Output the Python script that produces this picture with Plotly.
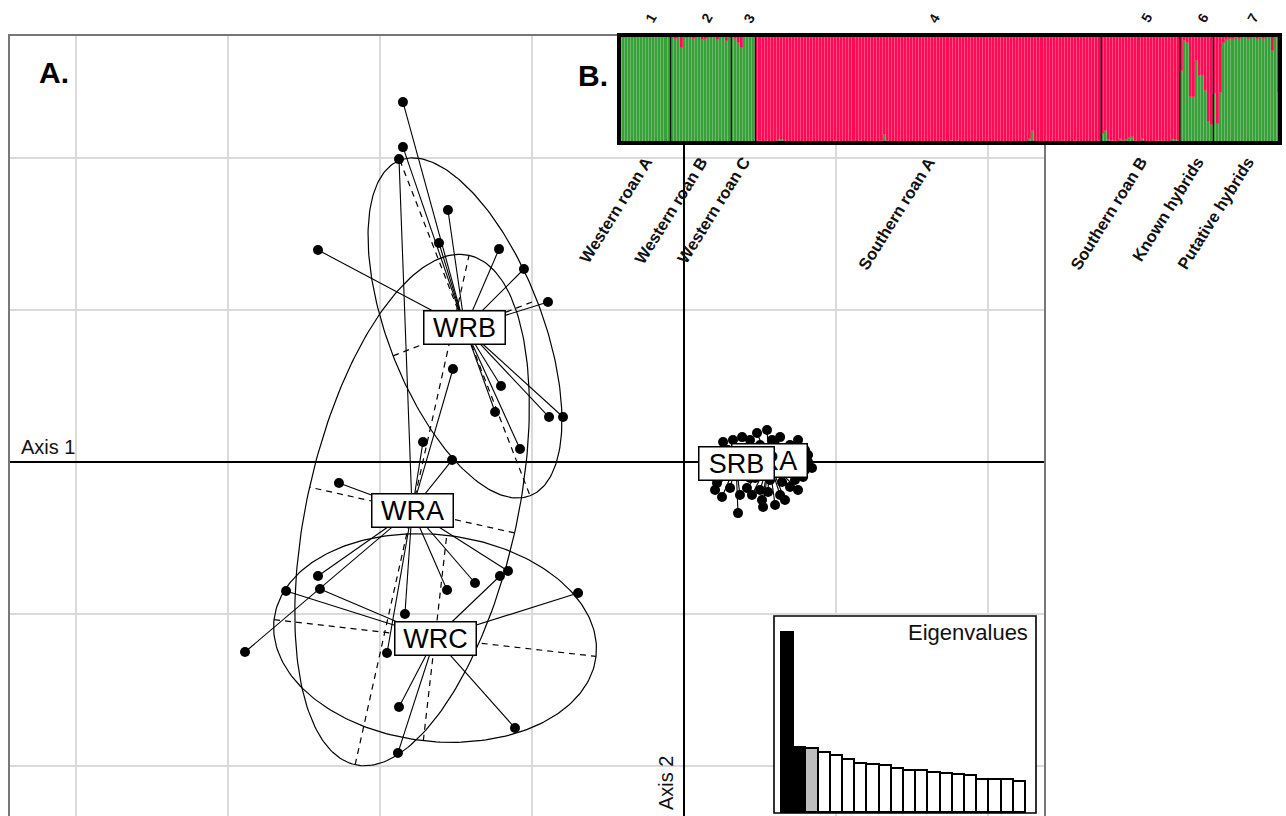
import numpy as np
import plotly.graph_objects as go

W, H = 1286, 816

# ---------------- Panel A : discriminant scores (axis units) ----------------
wrb_x = [-1.849, -1.849, -1.553, -2.408, -1.612, -1.217, -1.053, -0.895, -1.204, -1.243, -0.888, -0.796, -1.079]
wrb_y = [2.368, 2.072, 1.658, 1.395, 1.441, 1.401, 1.270, 1.053, 0.500, 0.329, 0.296, 0.296, 0.086]

wra_x = [-1.875, -1.520, -1.526, -1.717, -2.270, -2.408, -2.888, -1.836, -1.559, -1.375, -1.158, -1.954]
wra_y = [1.993, 0.612, 0.013, 0.132, -0.138, -0.750, -1.250, -1.000, -0.842, -0.796, -0.717, -1.257]

wrc_x = [-2.618, -2.395, -1.211, -0.697, -1.112, -1.875, -1.882]
wrc_y = [-0.849, -0.836, -0.750, -0.862, -1.750, -1.612, -1.914]

sra_x = [0.480, 0.546, 0.632, 0.750, 0.796, 0.816, 0.783, 0.697, 0.632, 0.513, 0.520, 0.414,
         0.599, 0.664, 0.730, 0.697, 0.566, 0.500, 0.434, 0.382, 0.697, 0.763, 0.842, 0.816,
         0.599, 0.645, 0.553, 0.467, 0.401, 0.730, 0.579, 0.500, 0.368, 0.796, 0.447, 0.599,
         0.664, 0.750, 0.533, 0.651]
sra_y = [0.191, 0.211, 0.164, 0.145, 0.079, 0.000, -0.099, -0.164, -0.217, -0.250, -0.296, -0.171,
         0.112, 0.066, -0.020, -0.066, -0.118, -0.184, 0.145, 0.164, 0.112, 0.026, -0.039, 0.046,
         -0.053, -0.132, -0.197, -0.105, -0.053, -0.118, 0.145, 0.112, 0.092, -0.053, -0.217, -0.283,
         -0.250, -0.184, -0.039, 0.013]

srb_x = [0.257, 0.250, 0.355, 0.217, 0.171, 0.184, 0.289, 0.401, 0.303, 0.368, 0.434, 0.204,
         0.138, 0.322, 0.421, 0.276]
srb_y = [0.132, -0.230, -0.336, -0.138, -0.053, 0.046, 0.079, 0.026, -0.171, -0.217, -0.105, -0.184,
         0.000, 0.145, -0.039, -0.086]

group_names = ["WRB", "WRA", "WRC", "SRA", "SRB"]
group_x = [wrb_x, wra_x, wrc_x, sra_x, srb_x]
group_y = [wrb_y, wra_y, wrc_y, sra_y, srb_y]
centroid_x = [-1.441, -1.789, -1.638, 0.559, 0.342]
centroid_y = [0.882, -0.316, -1.158, 0.007, -0.013]

# inertia ellipses of the western groups: semi-axes and orientation (degrees)
ell_names = ["WRB", "WRA", "WRC"]
ell_a = [1.184, 1.717, 1.066]
ell_b = [0.507, 0.691, 0.680]
ell_angle = [-68.8, 77.4, -6.5]

# eigenvalues inset
eig_values = [54.0, 19.5, 19.2, 18.0, 17.0, 15.8, 14.8, 14.3, 14.2, 13.2,
              12.7, 12.5, 12.0, 11.7, 11.3, 11.0, 10.0, 10.0, 9.8, 9.3]
eig_status = ["shown", "shown", "kept"] + ["other"] * 17

# ---------------- Panel B : STRUCTURE membership (green fraction) ----------------
struct_groups = ["Western roan A", "Western roan B", "Western roan C", "Southern roan A",
                 "Southern roan B", "Known hybrids", "Putative hybrids"]
struct_numbers = ["1", "2", "3", "4", "5", "6", "7"]
g1 = [0.98, 0.97, 0.98, 0.98, 0.97, 0.98, 0.98, 0.98, 0.97, 0.98, 0.98, 0.98, 0.98, 0.98, 0.97, 0.98, 0.98]
g2 = [0.97, 0.96, 0.98, 0.88, 0.97, 0.98, 0.97, 0.96, 0.98, 0.97, 0.95, 0.96, 0.98, 0.97, 0.97, 0.95,
      0.98, 0.97, 0.94, 0.97]
g3 = [0.97, 0.96, 0.93, 0.88, 0.98, 0.99, 0.99, 0.99]
g4 = [0.01, 0.02, 0.01, 0.02, 0.01, 0.01, 0.01, 0.03, 0.03, 0.02,
      0.01, 0.01, 0.01, 0.01, 0.01, 0.01, 0.01, 0.01, 0.01, 0.01,
      0.01, 0.01, 0.01, 0.01, 0.01, 0.01, 0.02, 0.01, 0.01, 0.01,
      0.01, 0.01, 0.01, 0.01, 0.02, 0.01, 0.01, 0.01, 0.01, 0.01,
      0.01, 0.02, 0.07, 0.02, 0.01, 0.01, 0.01, 0.01, 0.01, 0.01,
      0.01, 0.01, 0.01, 0.01, 0.01, 0.01, 0.01, 0.01, 0.01, 0.01,
      0.01, 0.01, 0.02, 0.01, 0.02, 0.01, 0.02, 0.01, 0.01, 0.01,
      0.01, 0.01, 0.01, 0.01, 0.01, 0.01, 0.01, 0.01, 0.01, 0.01,
      0.01, 0.01, 0.01, 0.01, 0.01, 0.01, 0.01, 0.01, 0.01, 0.01,
      0.04, 0.11, 0.01, 0.01, 0.01, 0.01, 0.01, 0.01, 0.01, 0.01,
      0.01, 0.02, 0.01, 0.01, 0.01, 0.02, 0.01, 0.01, 0.01, 0.01,
      0.01, 0.01, 0.01, 0.02]
g5 = [0.08, 0.11, 0.03, 0.02, 0.02, 0.01, 0.04, 0.02, 0.03, 0.05, 0.06, 0.02, 0.01,
      0.04, 0.01, 0.01, 0.01, 0.01, 0.02, 0.02, 0.02, 0.01, 0.01, 0.03, 0.03, 0.02]
g6 = [0.67, 0.94, 0.93, 0.43, 0.43, 0.76, 0.62, 0.62, 0.48, 0.19, 0.17]
g7 = [0.45, 0.18, 0.46, 0.93, 0.95, 0.96, 0.96, 0.97, 0.96, 0.97, 0.97, 0.96, 0.97, 0.97,
      0.96, 0.97, 0.96, 0.97, 0.97, 0.85, 0.99, 0.46]
struct_values = [g1, g2, g3, g4, g5, g6, g7]

GREEN = "#37a038"
RED = "#ff0a55"

X3_RANGE = [-1.16, 20.32]
Y3_RANGE = [0, 59.1]

fig = go.Figure()

# ---------- Panel A traces ----------
lx, ly = [], []
for gx, gy, cx, cy in zip(group_x, group_y, centroid_x, centroid_y):
    for px, py in zip(gx, gy):
        lx += [px, cx, None]
        ly += [py, cy, None]
fig.add_trace(go.Scatter(x=lx, y=ly, mode="lines", line=dict(color="black", width=1.1),
                         hoverinfo="skip", xaxis="x", yaxis="y"))

t = np.linspace(0, 2 * np.pi, 241)
for name, a, b, ang in zip(ell_names, ell_a, ell_b, ell_angle):
    i = group_names.index(name)
    cx, cy = centroid_x[i], centroid_y[i]
    th = np.deg2rad(ang)
    u = np.array([np.cos(th), np.sin(th)])
    v = np.array([-np.sin(th), np.cos(th)])
    ex = cx + a * np.cos(t) * u[0] + b * np.sin(t) * v[0]
    ey = cy + a * np.cos(t) * u[1] + b * np.sin(t) * v[1]
    fig.add_trace(go.Scatter(x=ex, y=ey, mode="lines", line=dict(color="black", width=1.2),
                             hoverinfo="skip", xaxis="x", yaxis="y"))
    ax_x = [cx - a * u[0], cx + a * u[0], None, cx - b * v[0], cx + b * v[0]]
    ax_y = [cy - a * u[1], cy + a * u[1], None, cy - b * v[1], cy + b * v[1]]
    fig.add_trace(go.Scatter(x=ax_x, y=ax_y, mode="lines",
                             line=dict(color="black", width=1.2, dash="6px,5px"),
                             hoverinfo="skip", xaxis="x", yaxis="y"))

allx = [v for g in group_x for v in g]
ally = [v for g in group_y for v in g]
fig.add_trace(go.Scatter(x=allx, y=ally, mode="markers",
                         marker=dict(color="black", size=10), hoverinfo="skip",
                         xaxis="x", yaxis="y"))

# ---------- Panel B: structure bars ----------
green_all, red_all = [], []
bounds = []
for vals in struct_values:
    green_all += vals
    red_all += [1 - v for v in vals]
    bounds.append(len(green_all))
ind = list(range(len(green_all)))
fig.add_trace(go.Bar(x=ind, y=green_all, width=1,
                     marker=dict(color=GREEN, line=dict(color="rgba(255,255,255,0.3)", width=0.5)),
                     xaxis="x2", yaxis="y2", hoverinfo="skip"))
fig.add_trace(go.Bar(x=ind, y=red_all, width=1,
                     marker=dict(color=RED, line=dict(color="rgba(255,255,255,0.3)", width=0.5)),
                     xaxis="x2", yaxis="y2", hoverinfo="skip"))

# ---------- Eigenvalue inset ----------
# white panel behind the inset bars (covers the main grid); drawn first as a bar
fig.add_trace(go.Bar(x=[(X3_RANGE[0] + X3_RANGE[1]) / 2], y=[Y3_RANGE[1]],
                     width=[X3_RANGE[1] - X3_RANGE[0]],
                     marker=dict(color="white", line=dict(width=0)),
                     xaxis="x3", yaxis="y3", hoverinfo="skip"))
status_color = {"shown": "black", "kept": "#bdbdbd", "other": "white"}
fig.add_trace(go.Bar(x=list(range(len(eig_values))), y=eig_values, width=1,
                     marker=dict(color=[status_color[s] for s in eig_status],
                                 line=dict(color="black", width=1.6)),
                     xaxis="x3", yaxis="y3", hoverinfo="skip"))

N = len(green_all)
px2x = lambda p: p / W
px2y = lambda p: 1 - p / H

fig.update_layout(
    width=W, height=H, margin=dict(l=0, r=0, t=0, b=0),
    paper_bgcolor="white", plot_bgcolor="white", showlegend=False,
    barmode="stack", bargap=0,
    font=dict(family="Liberation Sans, Arial, sans-serif", color="black"),
    xaxis=dict(domain=[px2x(10), px2x(1044)], range=[-4.434, 2.368], dtick=1, tick0=0,
               showgrid=True, gridcolor="#dadada", gridwidth=1.6,
               zeroline=True, zerolinecolor="black", zerolinewidth=1.5,
               showticklabels=False, ticks="", showline=True, mirror=True,
               linecolor="#777777", linewidth=2),
    yaxis=dict(domain=[0, px2y(36)], range=[-2.329, 2.803], dtick=1, tick0=0,
               showgrid=True, gridcolor="#dadada", gridwidth=1.6,
               zeroline=True, zerolinecolor="black", zerolinewidth=1.5,
               showticklabels=False, ticks="", showline=True, mirror=True,
               linecolor="#777777", linewidth=2),
    xaxis2=dict(domain=[px2x(619), px2x(1280)], range=[-0.5, N - 0.5], showgrid=False,
                zeroline=False, showticklabels=False, ticks=""),
    yaxis2=dict(domain=[px2y(143), px2y(35)], range=[0, 1], showgrid=False,
                zeroline=False, showticklabels=False, ticks=""),
    xaxis3=dict(domain=[px2x(774), px2x(1036)], range=X3_RANGE, showgrid=False,
                zeroline=False, showticklabels=False, ticks=""),
    yaxis3=dict(domain=[px2y(813), px2y(616)], range=Y3_RANGE, showgrid=False,
                zeroline=False, showticklabels=False, ticks=""),
)

shapes = []
# frame of the eigenvalue inset
shapes.append(dict(type="rect", xref="x3 domain", yref="y3 domain", x0=0, x1=1, y0=0, y1=1,
                   line=dict(color="black", width=1.6), layer="above"))
# group separators in structure plot
for bnd in bounds[:-1]:
    shapes.append(dict(type="line", xref="x2", yref="y2 domain", x0=bnd - 0.5, x1=bnd - 0.5,
                       y0=0, y1=1, line=dict(color="#111111", width=1.3), layer="above"))
# thick frame
shapes.append(dict(type="rect", xref="x2 domain", yref="y2 domain", x0=0, x1=1, y0=0, y1=1,
                   line=dict(color="black", width=4), layer="above"))
fig.update_layout(shapes=shapes)

ann = []
# group labels on the DAPC plot (SRA drawn first, SRB over it)
order = ["WRB", "WRA", "WRC", "SRA", "SRB"]
for name in order:
    i = group_names.index(name)
    ann.append(dict(x=centroid_x[i], y=centroid_y[i], xref="x", yref="y", text=name,
                    showarrow=False, font=dict(size=27, color="black"),
                    bgcolor="white", bordercolor="black", borderwidth=1.5, borderpad=1,
                    width=78 if name.startswith("W") else 72, height=30))

# structure plot labels
starts = [0] + bounds[:-1]
for name, num, s, e in zip(struct_groups, struct_numbers, starts, bounds):
    c = (s + e - 1) / 2
    ann.append(dict(x=c, y=px2y(151), xref="x2", yref="paper", text="<b>%s</b>" % name,
                    textangle=-58, xanchor="right", yanchor="top", xshift=13,
                    showarrow=False, font=dict(size=16.5, color="#111111")))
    ann.append(dict(x=c, y=px2y(18), xref="x2", yref="paper", text="<b>%s</b>" % num,
                    textangle=-60, xanchor="center", yanchor="middle", xshift=6,
                    showarrow=False, font=dict(size=14, color="#111111")))

ann.append(dict(x=px2x(37), y=px2y(72), xref="paper", yref="paper", text="<b>A.</b>",
                xanchor="left", yanchor="middle", showarrow=False, font=dict(size=30)))
ann.append(dict(x=px2x(576), y=px2y(75), xref="paper", yref="paper", text="<b>B.</b>",
                xanchor="left", yanchor="middle", showarrow=False, font=dict(size=30)))
ann.append(dict(x=px2x(19), y=px2y(460), xref="paper", yref="paper", text="Axis 1",
                xanchor="left", yanchor="bottom", showarrow=False, font=dict(size=20, color="#111111")))
ann.append(dict(x=px2x(666), y=px2y(783), xref="paper", yref="paper", text="Axis 2",
                textangle=-90, xanchor="center", yanchor="middle", showarrow=False,
                font=dict(size=20, color="#111111")))
ann.append(dict(x=px2x(1030), y=px2y(632), xref="paper", yref="paper", text="Eigenvalues",
                xanchor="right", yanchor="middle", showarrow=False, font=dict(size=22, color="#111111")))
fig.update_layout(annotations=ann)

fig.write_html("out.html", config={"displayModeBar": False},
               post_script="document.body.style.margin='0px';document.body.style.overflow='hidden';")
